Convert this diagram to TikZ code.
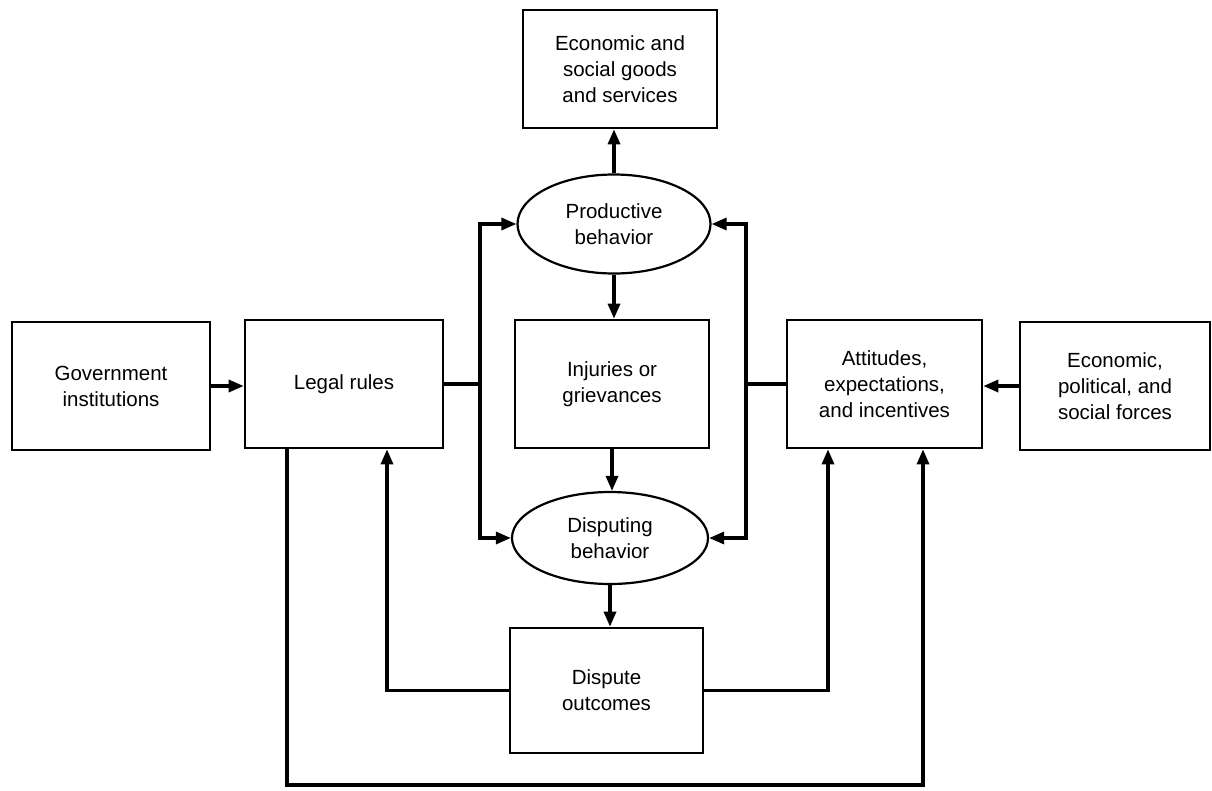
\documentclass[tikz,border=0pt]{standalone}
\usepackage{fontspec}
\setmainfont{Liberation Sans}
\usetikzlibrary{arrows.meta,shapes.geometric}
\begin{document}
\begin{tikzpicture}[x=1pt,y=-1pt,
  txt/.style={align=center,inner sep=0pt,font=\fontsize{20.5}{26}\selectfont},
  box/.style={txt,draw,line width=2.6pt},
  oval/.style={txt,draw,ellipse,line width=2.2pt},
  conn/.style={line width=3.6pt,line cap=rect},
  arr/.style={line width=3.2pt,-{Triangle[length=15pt,width=12pt]}}]
\useasboundingbox[fill=white] (0,0) rectangle (1212,790);
% nodes
\node[box,minimum width=194pt,minimum height=118pt] (goods) at (620,69) {Economic and\\social goods\\and services};
\node[oval,minimum width=193pt,minimum height=99pt] (prod) at (614,224) {Productive\\behavior};
\node[box,minimum width=194pt,minimum height=128pt] (inj) at (612,384) {Injuries or\\grievances};
\node[oval,minimum width=196pt,minimum height=92pt] (disp) at (610,538) {Disputing\\behavior};
\node[box,minimum width=193pt,minimum height=125pt] (out) at (606.5,690.5) {Dispute\\outcomes};
\node[box,minimum width=198pt,minimum height=128pt] (gov) at (111,386) {Government\\institutions};
\node[box,minimum width=198pt,minimum height=128pt] (legal) at (344,384) {Legal rules};
\node[box,minimum width=195pt,minimum height=128pt] (att) at (884.5,384) {Attitudes,\\expectations,\\and incentives};
\node[box,minimum width=190pt,minimum height=128pt] (forces) at (1115,386) {Economic,\\political, and\\social forces};
% bus coordinates
\coordinate (lt) at (480,224);
\coordinate (lb) at (480,538);
\coordinate (rt) at (746,224);
\coordinate (rb) at (746,538);
\coordinate (bl) at (287,785);
\coordinate (br) at (923,785);
% connectors
\draw[arr] (gov.east) -- (gov.east -| legal.west);
\draw[arr] (forces.west) -- (forces.west -| att.east);
\draw[conn] (legal.east) -- (legal.east -| lt);
\draw[conn] (lt) -- (lb);
\draw[arr] (lt) -- (prod.west);
\draw[arr] (lb) -- (disp.west);
\draw[conn] (att.west) -- (att.west -| rt);
\draw[conn] (rt) -- (rb);
\draw[arr] (rt) -- (prod.east);
\draw[arr] (rb) -- (disp.east);
\draw[arr] (prod.north) -- (prod.north |- goods.south);
\draw[arr] (prod.south) -- (prod.south |- inj.north);
\draw[arr] (inj.south) -- (inj.south |- disp.north);
\draw[arr] (disp.south) -- (disp.south |- out.north);
\draw[arr] (out.west) -| ([xshift=43pt]legal.south);
\draw[arr] (out.east) -| ([xshift=-56.5pt]att.south);
\draw[arr,line join=miter] (legal.south -| bl) -- (bl) -- (br) -- (br |- att.south);
\end{tikzpicture}
\end{document}
